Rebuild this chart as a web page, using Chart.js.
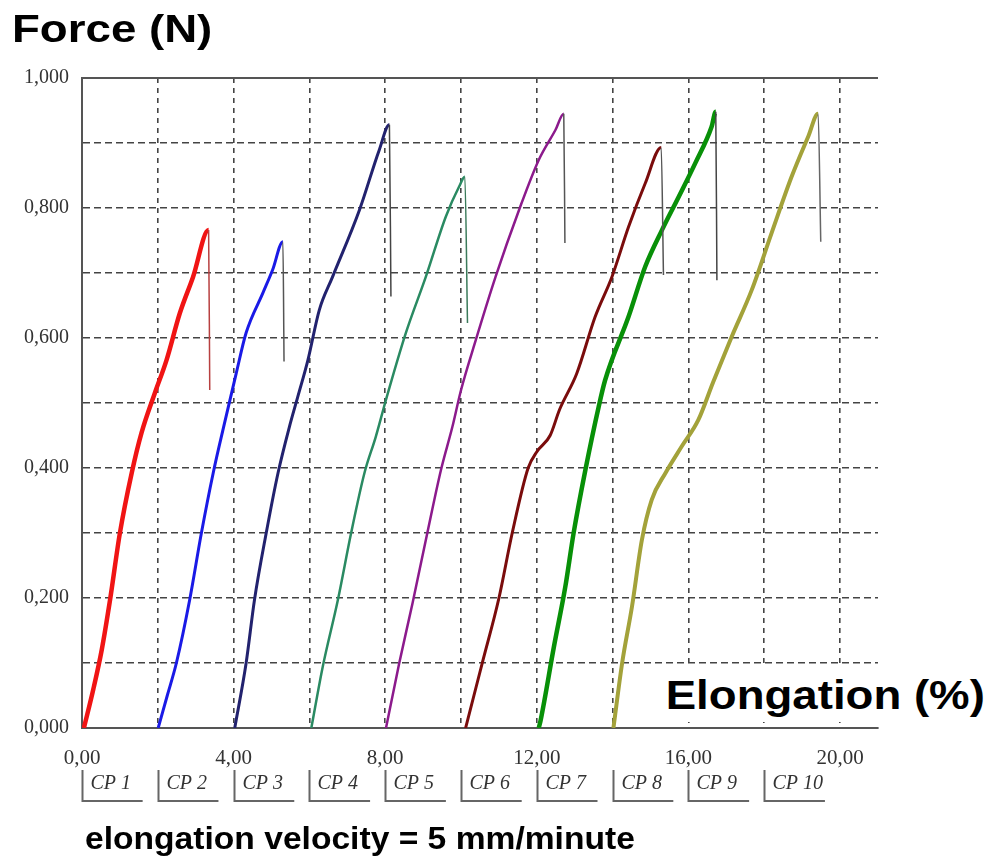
<!DOCTYPE html>
<html>
<head>
<meta charset="utf-8">
<script src="https://cdn.jsdelivr.net/npm/chart.js@4.4.1/dist/chart.umd.min.js"></script>
<style>
  html, body { margin: 0; padding: 0; background: #fff; }
  #wrap { position: relative; width: 991px; height: 861px; overflow: hidden; }
  #chart { position: absolute; left: 0; top: 0; }
  .big { position: absolute; font-family: 'Liberation Sans', Arial, sans-serif; font-weight: bold; color: #000; white-space: nowrap; transform-origin: 0 50%; }
</style>
</head>
<body>
<div id="wrap">
  <canvas id="chart" width="991" height="861"></canvas>
  <div class="big" id="ytitle" style="left:12px; top:6px; font-size:39px; line-height:46px; transform:scaleX(1.17);">Force (N)</div>
  <div class="big" id="xtitle" style="left:660px; top:668px; height:54px; padding-left:5px; font-size:40px; line-height:54px; background:#fff; transform:scaleX(1.14);">Elongation (%)</div>
  <div class="big" id="note" style="left:85px; top:818px; font-size:32px; line-height:40px; transform:scaleX(1.05);">elongation velocity = 5 mm/minute</div>
</div>
<script>
// specimen labels and where each curve starts on the elongation axis
const cpLabels = ['CP 1', 'CP 2', 'CP 3', 'CP 4', 'CP 5', 'CP 6', 'CP 7', 'CP 8', 'CP 9', 'CP 10'];
const cpStarts = [0, 2, 4, 6, 8, 10, 12, 14, 16, 18];

// [elongation %, force N]; last point = rupture drop
const cp1 = [[0.05,0],[0.3,0.06],[0.52,0.12],[0.74,0.197],[1.0,0.30],[1.31,0.392],[1.57,0.454],[1.92,0.515],[2.23,0.566],[2.58,0.638],[2.93,0.694],[3.34,0.766],[3.37,0.52]];
const cp2 = [[2.01,0],[2.25,0.05],[2.49,0.1],[2.84,0.197],[3.15,0.30],[3.46,0.392],[3.76,0.469],[4.07,0.546],[4.33,0.608],[4.77,0.669],[5.03,0.705],[5.30,0.748],[5.33,0.564]];
const cp3 = [[4.03,0],[4.33,0.1],[4.55,0.197],[4.86,0.30],[5.17,0.392],[5.47,0.463],[5.69,0.509],[5.96,0.566],[6.26,0.643],[6.61,0.694],[7.32,0.797],[7.84,0.889],[8.11,0.928],[8.15,0.664]];
const cp4 = [[6.05,0],[6.35,0.094],[6.75,0.197],[7.1,0.3],[7.45,0.392],[7.75,0.448],[8.02,0.505],[8.54,0.607],[9.07,0.694],[9.6,0.787],[9.95,0.833],[10.1,0.848],[10.17,0.623]];
const cp5 = [[8.02,0],[8.37,0.1],[8.72,0.192],[9.11,0.3],[9.47,0.397],[9.77,0.463],[10.0,0.52],[10.39,0.597],[10.91,0.694],[11.53,0.797],[12.05,0.874],[12.49,0.92],[12.71,0.945],[12.74,0.746]];
const cp6 = [[10.12,0],[10.56,0.1],[11.0,0.2],[11.35,0.3],[11.77,0.4],[12.0,0.425],[12.35,0.45],[12.6,0.49],[13.05,0.545],[13.54,0.633],[13.98,0.694],[14.42,0.771],[14.86,0.838],[15.28,0.893],[15.34,0.697]];
const cp7 = [[12.05,0],[12.1,0.012],[12.45,0.125],[12.75,0.217],[12.97,0.3],[13.28,0.397],[13.63,0.494],[13.8,0.535],[14.42,0.633],[14.86,0.71],[15.3,0.766],[15.74,0.817],[16.18,0.869],[16.61,0.925],[16.72,0.948],[16.75,0.689]];
const cp8 = [[14.02,0],[14.25,0.1],[14.51,0.187],[14.77,0.289],[15.03,0.351],[15.39,0.392],[15.82,0.433],[16.26,0.474],[16.65,0.532],[17.14,0.602],[17.67,0.674],[18.19,0.761],[18.72,0.848],[19.16,0.91],[19.42,0.945],[19.49,0.748]];

const curves = [cp1, cp2, cp3, cp4, cp5, cp6, cp7, cp8];
const colors = ['#f01414', '#1a1ae6', '#22226e', '#2a8a62', '#8c1a8c', '#7a0c0c', '#089008', '#a3a23a'];
const widths = [4.5, 3, 3, 2.5, 2.5, 3, 4.5, 4];
const dropColors = ['#b84040', '#555', '#444', '#3a7a5a', '#555', '#555', '#444', '#666'];

const xMax = 21;
const yMax = 1;

const datasets = curves.map((pts, i) => ({
  label: cpLabels[i],
  data: pts.map(p => ({ x: p[0], y: p[1] })),
  borderColor: colors[i],
  borderWidth: widths[i],
  pointRadius: 0,
  cubicInterpolationMode: 'monotone',
  fill: false,
  segment: {
    borderWidth: ctx => ctx.p1DataIndex === pts.length - 1 ? 1.5 : undefined,
    borderColor: ctx => ctx.p1DataIndex === pts.length - 1 ? dropColors[i] : undefined
  }
}));

// CP n labels with their little L-brackets under the axis
const cpPlugin = {
  id: 'cpLabels',
  afterDraw(chart) {
    const xs = chart.scales.x;
    const bottom = chart.chartArea.bottom;
    const c = chart.ctx;
    c.save();
    c.strokeStyle = '#666';
    c.lineWidth = 2;
    c.fillStyle = '#333';
    c.font = 'italic 20px "Liberation Serif", "Times New Roman", serif';
    c.textBaseline = 'middle';
    cpStarts.forEach((v, i) => {
      const x0 = Math.round(xs.getPixelForValue(v)) + 0.5;
      const x1 = xs.getPixelForValue(v + 1.6);
      c.beginPath();
      c.moveTo(x0, bottom + 42);
      c.lineTo(x0, bottom + 73);
      c.lineTo(x1, bottom + 73);
      c.stroke();
      c.fillText(cpLabels[i], x0 + 8, bottom + 56);
    });
    c.restore();
  }
};

new Chart(document.getElementById('chart'), {
  type: 'line',
  data: { datasets },
  options: {
    responsive: false,
    animation: false,
    layout: { padding: { top: 78, right: 113, bottom: 0, left: 0 } },
    plugins: { legend: { display: false }, tooltip: { enabled: false } },
    scales: {
      x: {
        type: 'linear',
        min: 0,
        max: xMax,
        afterFit: s => { s.height = 133; },
        border: { display: true, color: '#555', width: 2, dash: [5, 5] },
        grid: { color: '#444', lineWidth: 1.6, drawTicks: false },
        ticks: {
          stepSize: 2,
          includeBounds: false,
          autoSkip: false,
          maxRotation: 0,
          padding: 18,
          color: '#333',
          font: { family: '"Liberation Serif", "Times New Roman", serif', size: 21 },
          callback: v => (v % 4 === 0 ? v.toFixed(2).replace('.', ',') : '')
        }
      },
      y: {
        min: 0,
        max: yMax,
        afterFit: s => { s.width = 82; },
        border: {
          display: true, color: '#555', width: 2,
          dash: ctx => (ctx.tick && ctx.tick.value >= yMax ? [] : [7, 4])
        },
        grid: {
          color: ctx => (ctx.tick && ctx.tick.value >= yMax ? '#555' : '#444'),
          lineWidth: ctx => (ctx.tick && ctx.tick.value >= yMax ? 2 : 1.6),
          drawTicks: false
        },
        ticks: {
          stepSize: 0.1,
          autoSkip: false,
          padding: 13,
          color: '#333',
          font: { family: '"Liberation Serif", "Times New Roman", serif', size: 20 },
          callback: v => (Math.round(v * 10) % 2 === 0 ? v.toFixed(3).replace('.', ',') : '')
        }
      }
    }
  },
  plugins: [cpPlugin]
});
</script>
</body>
</html>
